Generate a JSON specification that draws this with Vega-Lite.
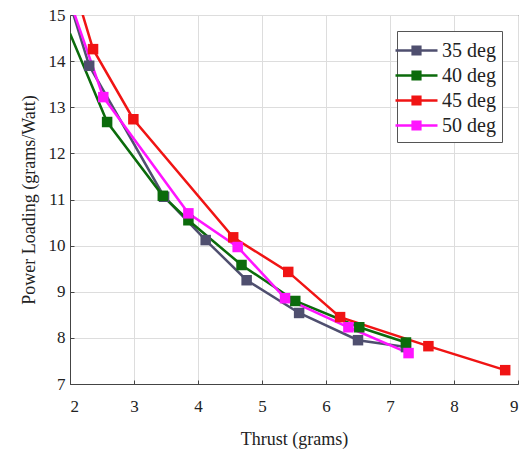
{
  "$schema": "https://vega.github.io/schema/vega-lite/v6.json",
  "width": 448,
  "height": 369,
  "autosize": "none",
  "padding": {"left": 70, "top": 15, "right": 5, "bottom": 70},
  "config": {
    "view": {"stroke": "#444444", "strokeWidth": 1},
    "font": "Times New Roman, Liberation Serif, serif"
  },
  "data": {
    "values": [
      {"series": "35 deg", "x": 2.0, "y": 15.25, "m": false},
      {"series": "35 deg", "x": 2.30, "y": 13.9, "m": true},
      {"series": "35 deg", "x": 3.47, "y": 11.06, "m": true},
      {"series": "35 deg", "x": 4.12, "y": 10.12, "m": true},
      {"series": "35 deg", "x": 4.76, "y": 9.25, "m": true},
      {"series": "35 deg", "x": 5.58, "y": 8.54, "m": true},
      {"series": "35 deg", "x": 6.50, "y": 7.95, "m": true},
      {"series": "35 deg", "x": 7.25, "y": 7.8, "m": true},
      {"series": "40 deg", "x": 2.0, "y": 14.6, "m": false},
      {"series": "40 deg", "x": 2.58, "y": 12.68, "m": true},
      {"series": "40 deg", "x": 3.45, "y": 11.08, "m": true},
      {"series": "40 deg", "x": 3.85, "y": 10.55, "m": true},
      {"series": "40 deg", "x": 4.68, "y": 9.58, "m": true},
      {"series": "40 deg", "x": 5.52, "y": 8.80, "m": true},
      {"series": "40 deg", "x": 6.52, "y": 8.23, "m": true},
      {"series": "40 deg", "x": 7.25, "y": 7.9, "m": true},
      {"series": "45 deg", "x": 2.1, "y": 15.46, "m": false},
      {"series": "45 deg", "x": 2.36, "y": 14.26, "m": true},
      {"series": "45 deg", "x": 2.99, "y": 12.74, "m": true},
      {"series": "45 deg", "x": 4.55, "y": 10.18, "m": true},
      {"series": "45 deg", "x": 5.41, "y": 9.43, "m": true},
      {"series": "45 deg", "x": 6.22, "y": 8.45, "m": true},
      {"series": "45 deg", "x": 7.60, "y": 7.82, "m": true},
      {"series": "45 deg", "x": 8.80, "y": 7.30, "m": true},
      {"series": "50 deg", "x": 2.0, "y": 15.3, "m": false},
      {"series": "50 deg", "x": 2.52, "y": 13.22, "m": true},
      {"series": "50 deg", "x": 3.85, "y": 10.70, "m": true},
      {"series": "50 deg", "x": 4.62, "y": 9.97, "m": true},
      {"series": "50 deg", "x": 5.36, "y": 8.86, "m": true},
      {"series": "50 deg", "x": 6.35, "y": 8.23, "m": true},
      {"series": "50 deg", "x": 7.29, "y": 7.67, "m": true}
    ]
  },
  "encoding": {
    "x": {
      "field": "x", "type": "quantitative",
      "scale": {"domain": [2, 9], "nice": false, "zero": false},
      "axis": {
        "title": "Thrust (grams)", "values": [2,3,4,5,6,7,8,9], "format": "d",
        "labelFont": "Times New Roman, Liberation Serif, serif", "labelFontSize": 17, "labelColor": "#222222",
        "titleFont": "Times New Roman, Liberation Serif, serif", "titleFontSize": 18, "titleFontWeight": "normal", "titleColor": "#222222",
        "labelPadding": 18, "titlePadding": 16,
        "tickSize": -4, "tickColor": "#444444", "domainColor": "#444444",
        "gridColor": "#dddddd"
      }
    },
    "y": {
      "field": "y", "type": "quantitative",
      "scale": {"domain": [7, 15], "nice": false, "zero": false},
      "axis": {
        "title": "Power Loading (grams/Watt)", "values": [7,8,9,10,11,12,13,14,15], "format": "d",
        "labelFont": "Times New Roman, Liberation Serif, serif", "labelFontSize": 17, "labelColor": "#222222",
        "titleFont": "Times New Roman, Liberation Serif, serif", "titleFontSize": 18, "titleFontWeight": "normal", "titleColor": "#222222",
        "labelPadding": 9, "titlePadding": 10,
        "tickSize": -4, "tickColor": "#444444", "domainColor": "#444444",
        "gridColor": "#dddddd"
      }
    },
    "color": {
      "field": "series", "type": "nominal",
      "scale": {"domain": ["35 deg", "40 deg", "45 deg", "50 deg"], "range": ["#4f4f6f", "#0b6b0b", "#f01414", "#ff14ff"]},
      "legend": {
        "title": null, "orient": "top-right", "offset": 16,
        "fillColor": "white", "strokeColor": "#555555", "padding": 6,
        "labelFont": "Times New Roman, Liberation Serif, serif", "labelFontSize": 20, "labelColor": "#222222",
        "symbolType": "M-1.75,0H1.75M-0.32,-0.32H0.32V0.32H-0.32Z",
        "symbolSize": 576, "symbolStrokeWidth": 2.5, "rowPadding": 1, "labelOffset": 12
      }
    }
  },
  "layer": [
    {"mark": {"type": "line", "strokeWidth": 2.5, "clip": true}},
    {
      "transform": [{"filter": "datum.m"}],
      "mark": {"type": "square", "size": 110, "opacity": 1, "filled": true, "clip": true}
    }
  ]
}
